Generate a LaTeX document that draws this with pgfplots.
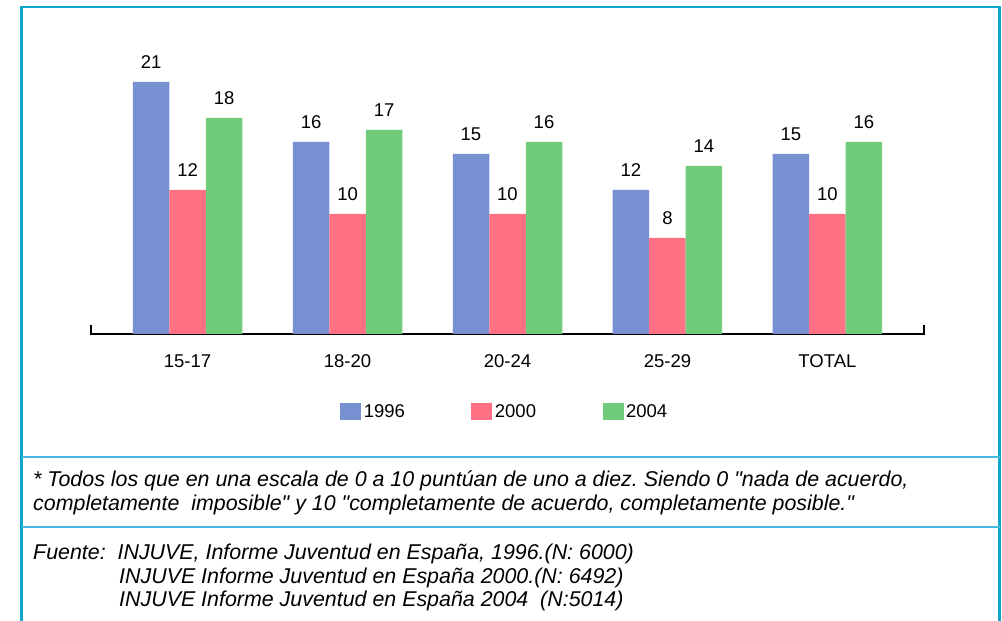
\documentclass[border=0pt]{standalone}
\usepackage{pgfplots}
\pgfplotsset{compat=1.18}
\usepackage{fontspec}
\setmainfont{Liberation Sans}
\newfontfamily\chartfont{Liberation Sans}
\newfontfamily\notefont{Liberation Sans}[Ligatures=TeXOff]
\frenchspacing
\definecolor{framec}{RGB}{16,165,205}
\definecolor{sepc}{RGB}{70,185,222}
\definecolor{cblue}{RGB}{118,144,210}
\definecolor{cred}{RGB}{255,112,132}
\definecolor{cgreen}{RGB}{112,204,122}
\begin{document}
\begin{tikzpicture}
\useasboundingbox (0pt,0pt) rectangle (1002pt,621pt);
\fill[white] (0pt,0pt) rectangle (1002pt,621pt);
\draw[framec, line width=2.5pt] (21.5pt,-10pt) -- (21.5pt,614pt) -- (999.5pt,614pt) -- (999.5pt,-10pt);
\draw[sepc, line width=1.5pt] (21.5pt,164pt) -- (999.5pt,164pt);
\draw[sepc, line width=1.5pt] (21.5pt,94pt) -- (999.5pt,94pt);
\begin{axis}[
  at={(90pt,287pt)}, anchor=south west,
  scale only axis, width=835pt, height=300pt,
  xmin=-0.61, xmax=4.61, ymin=0, ymax=25,
  hide y axis, axis x line*=bottom,
  x axis line style={line width=2pt, black},
  xtick={0,1,2,3,4}, xticklabels={15-17,18-20,20-24,25-29,TOTAL},
  xtick style={draw=none}, major tick length=0pt,
  xticklabel style={anchor=center, yshift=-27pt, font=\chartfont\fontsize{18.5}{20}\selectfont},
  ybar=0pt, bar width=36.5pt,
  nodes near coords,
  nodes near coords style={anchor=center, yshift=20pt, font=\chartfont\fontsize{18.5}{20}\selectfont, black},
  /pgf/number format/assume math mode=true,
  legend columns=3,
  legend style={at={(0.497,-0.26)}, anchor=center, draw=none, fill=none,
    font=\chartfont\fontsize{18.5}{20}\selectfont,
    nodes={inner sep=2.5pt},
    /tikz/every even column/.append style={column sep=64pt}},
  legend image code/.code={\fill[#1] (0pt,-8.5pt) rectangle (21pt,8.5pt);},
  clip=false,
]
\addplot[fill=cblue, draw=none] coordinates {(0,21) (1,16) (2,15) (3,12) (4,15)};
\addplot[fill=cred, draw=none] coordinates {(0,12) (1,10) (2,10) (3,8) (4,10)};
\addplot[fill=cgreen, draw=none] coordinates {(0,18) (1,17) (2,16) (3,14) (4,16)};
\legend{1996,2000,2004}
\draw[line width=2pt, black] (axis cs:-0.61,0) ++(1pt,0pt) -- ++(0pt,9pt);
\draw[line width=2pt, black] (axis cs:4.61,0) ++(-1pt,0pt) -- ++(0pt,9pt);
\end{axis}
\begin{scope}[every node/.style={anchor=base west, inner sep=0pt, font=\notefont\fontsize{21.4}{24}\selectfont\itshape}]
\node at (33pt,134pt) {* Todos los que en una escala de 0 a 10 puntúan de uno a diez. Siendo 0 "nada de acuerdo,};
\node at (33pt,110pt) {completamente\ \ imposible" y 10 "completamente de acuerdo, completamente posible."};
\node at (33pt,61pt) {Fuente:\ \ INJUVE, Informe Juventud en España, 1996.(N: 6000)};
\node at (119pt,37.5pt) {INJUVE Informe Juventud en España 2000.(N: 6492)};
\node at (119pt,14.5pt) {INJUVE Informe Juventud en España 2004\ \ (N:5014)};
\end{scope}
\end{tikzpicture}
\end{document}
